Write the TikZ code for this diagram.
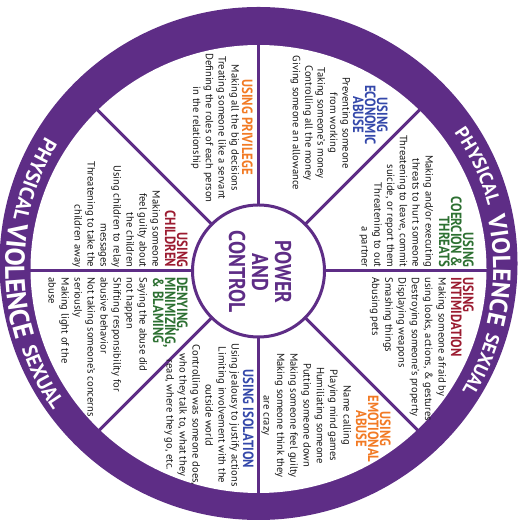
\documentclass[tikz,border=0pt]{standalone}
\usepackage{fontspec}
\setmainfont{PT Sans}
\newfontfamily\condf[FakeStretch=0.86]{PT Sans}
\usetikzlibrary{decorations.text}
\definecolor{pcpurple}{RGB}{94,45,134}
\definecolor{pcred}{RGB}{155,27,48}
\definecolor{pcgreen}{RGB}{45,112,50}
\definecolor{pcblue}{RGB}{52,72,170}
\definecolor{pcorange}{RGB}{242,122,36}
\newlength\calw
\newcommand\calib[4]{\settowidth\calw{#2\fontsize{10}{10}\selectfont #3}\pgfmathsetmacro#1{10*#4/\calw}}
\newcommand\rbigR{\bfseries\fontsize{\bigszR}{\bigszR}\selectfont}
\newcommand\rsmallR{\bfseries\fontsize{\smallszR}{\smallszR}\selectfont}
\newcommand\rbigL{\bfseries\fontsize{\bigszL}{\bigszL}\selectfont}
\newcommand\rsmallL{\bfseries\fontsize{\smallszL}{\smallszL}\selectfont}
\newcommand\blk[7]{\foreach \linetxt [count=\i] in {#7}{\node[#2,anchor=#3] (#1\i) at (#4,{#5-(\i-1)*#6}) {\linetxt};}}
\begin{document}
\calib\bodysz{}{Using jealousy to justify actions}{143}%
\calib\titlesz{\condf\bfseries}{USING ISOLATION}{98}%
\calib\centersz{\condf\bfseries}{CONTROL}{82}%
\calib\bigszR{\bfseries}{VIOLENCE}{108}%
\calib\smallszR{\bfseries}{PHYSICAL}{80}%
\calib\bigszL{\bfseries}{VIOLENCE}{119}%
\calib\smallszL{\bfseries}{PHYSICAL}{87}%
\begin{tikzpicture}[x=1pt,y=1pt,
  bodyt/.style={font=\fontsize{\bodysz}{13}\selectfont, inner sep=0pt, text=black!90},
  titlet/.style={font=\condf\bfseries\fontsize{\titlesz}{12}\selectfont, inner sep=0pt},
  spoke/.style={draw=pcpurple, line width=3pt},
  ringtxt/.style={decorate, decoration={text along path, text align=center, text color=white, text={#1}}}]
\useasboundingbox (0,0) rectangle (523,526);
% wheel geometry
\begin{scope}[shift={(258.5,255)}]
\coordinate (C) at (0,0);
\fill[pcpurple] (0,7.5) ellipse[x radius=259, y radius=256.5];
\fill[white] (0,2) ellipse[x radius=228, y radius=224];
\foreach \a in {0,45,...,315} \draw[spoke] (\a:66) -- (\a:234);
\draw[spoke, fill=white] (C) circle[radius=66];
\end{scope}
% texts (wheel drawn upright, turned a quarter clockwise)
\begin{scope}[shift={(259,258)}, rotate=-90, transform shape]
\node[font=\condf\bfseries\fontsize{\centersz}{23}\selectfont, text=pcpurple, align=center, inner sep=0pt] (pc) at (4,1) {POWER\\AND\\CONTROL};
% coercion
\blk{coT}{titlet,text=pcgreen}{base east}{-0.5}{204}{12}{USING,COERCION \&,THREATS}
\blk{coB}{bodyt}{base east}{-0.5}{166.5}{12.8}{Making and/or executing,threats to hurt someone,{Threatening to leave, commit},{suicide, or report them},Threatening to out,a partner}
% intimidation
\blk{inT}{titlet,text=pcred}{base west}{9.5}{204}{12}{USING,INTIMIDATION}
\blk{inB}{bodyt}{base west}{9.5}{179.5}{13.3}{Making someone afraid by,{using looks, actions, \& gestures},Destroying someone's property,Displaying weapons,Smashing things,Abusing pets}
% emotional
\blk{emT}{titlet,text=pcorange}{base}{161}{121}{12}{USING,EMOTIONAL,ABUSE}
\blk{emB}{bodyt}{base}{147.5}{84.5}{13.3}{Name calling,Playing mind games,Humiliating someone,Putting someone down,Making someone feel guilty,Making someone think they,are crazy}
% isolation
\blk{isT}{titlet,text=pcblue}{base}{151}{-16}{12}{USING ISOLATION}
\blk{isB}{bodyt}{base}{147}{-27.5}{13}{Using jealousy to justify actions,Limiting involvement with the,outside world,{Controlling was someone does,},{who they talk to, what they},{read, where they go, etc.}}
% denying
\blk{deT}{titlet,text=pcgreen}{base west}{9.5}{-82}{12}{{DENYING,},{MINIMIZING,},\& BLAMING}
\blk{deB}{bodyt}{base west}{9.5}{-119.5}{13}{Saying the abuse did,not happen,Shifting responsibility for,abusive behavior,Not taking someone's concerns,seriously,Making light of the,abuse}
% children
\blk{chT}{titlet,text=pcred}{base east}{-0.5}{-82}{12}{USING,CHILDREN}
\blk{chB}{bodyt}{base east}{-0.5}{-106.5}{13}{Making someone,feel guilty about,the children,Using children to relay,messages,Threatening to take the,children away}
% privilege
\blk{prT}{titlet,text=pcorange}{base}{-141}{-17}{12}{USING PRIVILEGE}
\blk{prB}{bodyt}{base}{-140}{-27.5}{12.8}{Making all the big decisions,Treating someone like a servant,Defining the roles of each person,in the relationship}
% economic
\blk{ecT}{titlet,text=pcblue}{base}{-153}{118}{12}{USING,ECONOMIC,ABUSE}
\blk{ecB}{bodyt}{base}{-145}{83.5}{12.4}{Preventing someone,from working,Taking someone's money,Controlling all the money,Giving someone an allowance}
\end{scope}
% ring text
\begin{scope}[shift={(259,258)}]
\path[ringtxt={|\rsmallR|PHYSICAL}] (45:237.5) arc[start angle=45, end angle=5, radius=237.5];
\path[ringtxt={|\rbigR|VIOLENCE}] (24.4:234.2) arc[start angle=24.4, end angle=-25.6, radius=234.2];
\path[ringtxt={|\rsmallR|SEXUAL}] (-3.5:237.5) arc[start angle=-3.5, end angle=-43.5, radius=237.5];
\path[ringtxt={|\rsmallL|PHYSICAL}] (138.5:250.5) arc[start angle=138.5, end angle=178.5, radius=250.5];
\path[ringtxt={|\rbigL|VIOLENCE}] (158.2:253.8) arc[start angle=158.2, end angle=208.2, radius=253.8];
\path[ringtxt={|\rsmallL|SEXUAL}] (186.7:250.5) arc[start angle=186.7, end angle=226.7, radius=250.5];
\end{scope}
\end{tikzpicture}
\end{document}
